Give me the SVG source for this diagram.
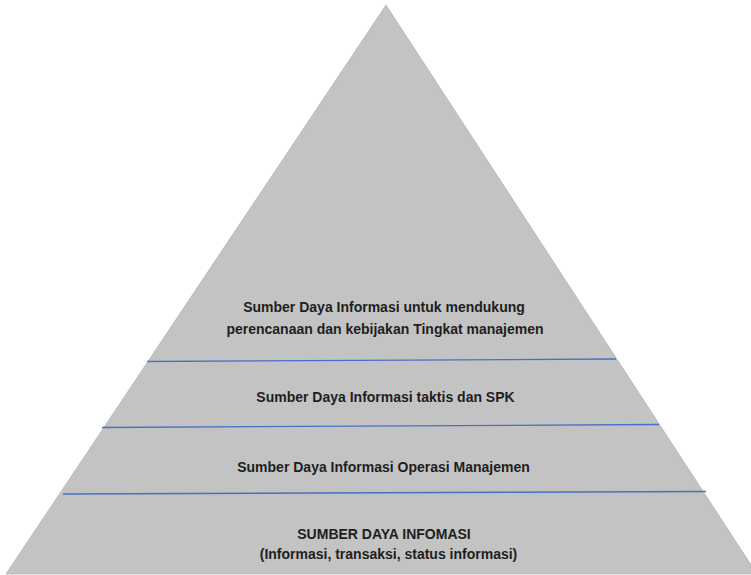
<svg xmlns="http://www.w3.org/2000/svg" width="751" height="575" viewBox="0 0 751 575">
<style>
.t{font-family:"Liberation Sans",Arial,sans-serif;font-weight:bold;font-size:14px;fill:#1e1e1e;text-anchor:middle}
.sep{stroke:#4472c4;stroke-width:1.3;fill:none}
</style>
<rect width="751" height="575" fill="#ffffff"/>
<g id="pyramid">
<polygon points="386,5 6,574 757,574" fill="#c3c3c3" stroke="#b5b5b5" stroke-width="0.8"/>
</g>
<g id="connectors">
<line class="sep" x1="147" y1="361.5" x2="616" y2="359"/>
<line class="sep" x1="102" y1="427.5" x2="659" y2="424.5"/>
<line class="sep" x1="63" y1="494" x2="706" y2="491.5"/>
</g>
<g id="level-top">
<text class="t" x="384" y="311.5">Sumber Daya Informasi untuk mendukung</text>
<text class="t" x="385" y="334">perencanaan dan kebijakan Tingkat manajemen</text>
</g>
<g id="level-taktis">
<text class="t" x="385.5" y="402">Sumber Daya Informasi taktis dan SPK</text>
</g>
<g id="level-operasi">
<text class="t" x="383.5" y="471.5">Sumber Daya Informasi Operasi Manajemen</text>
</g>
<g id="level-base">
<text class="t" x="384" y="539">SUMBER DAYA INFOMASI</text>
<text class="t" x="388.5" y="559">(Informasi, transaksi, status informasi)</text>
</g>
</svg>
